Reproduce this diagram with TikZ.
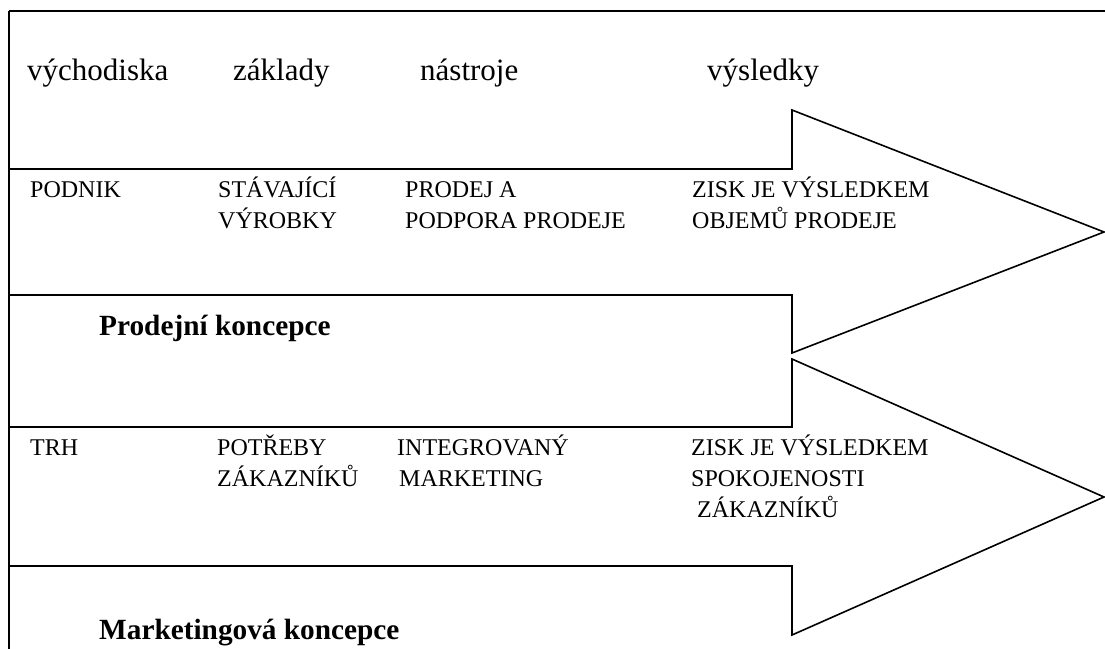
\documentclass[tikz,border=0pt]{standalone}
\usepackage{fontspec}
\setmainfont{Liberation Serif}
\begin{document}
\begin{tikzpicture}[x=1pt,y=-1pt,
  frame/.style={line width=1.6pt,line join=miter},
  head/.style={anchor=base west,inner sep=0pt,font=\fontsize{31}{31}\selectfont},
  lbl/.style={anchor=base west,inner sep=0pt,font=\fontsize{24}{24}\selectfont},
  title/.style={anchor=base west,inner sep=0pt,font=\fontsize{29.3}{29.3}\selectfont\bfseries}]
\useasboundingbox (0,0) rectangle (1105,648);
% outer frame (top and left)
\draw[frame] (9,11) -- (1106,11);
\draw[frame] (9,11) -- (9,650);
% arrow 1
\draw[frame] (9,169) -- (792,169) -- (792,110) -- (1104,232) -- (792,353) -- (792,295) -- (9,295);
% arrow 2
\draw[frame] (9,427) -- (792,427) -- (792,359) -- (1104,497) -- (792,635) -- (792,566) -- (9,566);
% headers
\node[head] (h1) at (27,80) {východiska};
\node[head] (h2) at (233,80) {základy};
\node[head] (h3) at (420,80) {nástroje};
\node[head] (h4) at (707,80) {výsledky};
% row 1
\node[lbl] (a1) at (30,197) {PODNIK};
\node[lbl] (b1) at (218,197) {STÁVAJÍCÍ};
\node[lbl] (b2) at (218,228) {VÝROBKY};
\node[lbl] (c1) at (405,197) {PRODEJ A};
\node[lbl] (c2) at (405,228) {PODPORA PRODEJE};
\node[lbl] (d1) at (692,197) {ZISK JE VÝSLEDKEM};
\node[lbl] (d2) at (692,228) {OBJEMŮ PRODEJE};
\node[title] (t1) at (99,335) {Prodejní koncepce};
% row 2
\node[lbl] (e1) at (30,455) {TRH};
\node[lbl] (f1) at (217,455) {POTŘEBY};
\node[lbl] (f2) at (217,486) {ZÁKAZNÍKŮ};
\node[lbl] (g1) at (397,455) {INTEGROVANÝ};
\node[lbl] (g2) at (399,486) {MARKETING};
\node[lbl] (k1) at (691,455) {ZISK JE VÝSLEDKEM};
\node[lbl] (k2) at (691,486) {SPOKOJENOSTI};
\node[lbl] (k3) at (697,517) {ZÁKAZNÍKŮ};
\node[title] (t2) at (99,639) {Marketingová koncepce};
\end{tikzpicture}
\end{document}
